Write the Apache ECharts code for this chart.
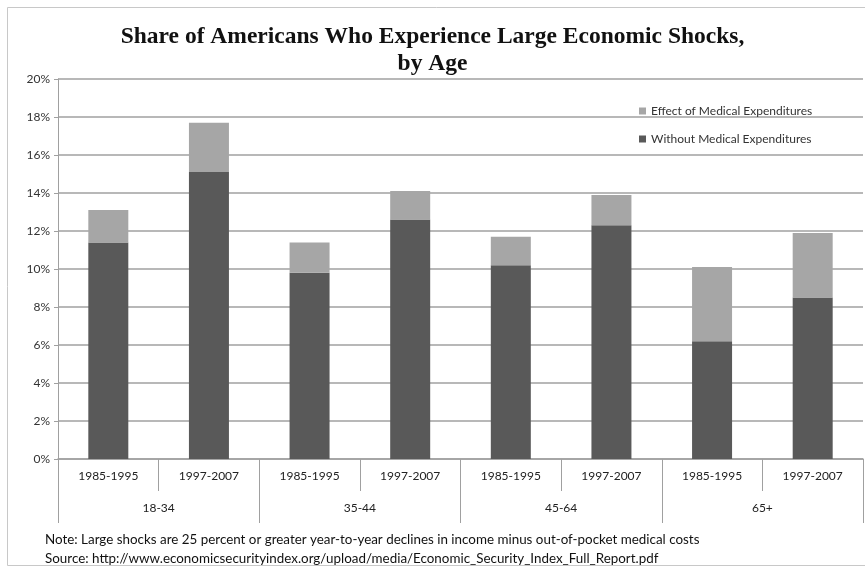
<!DOCTYPE html>
<html>
<head>
<meta charset="utf-8">
<script src="https://cdn.jsdelivr.net/npm/echarts@6/dist/echarts.min.js"></script>
<style>html,body{margin:0;padding:0;background:#fff}#c{width:865px;height:570px}</style>
</head>
<body>
<div id="c"></div>
<script>
const periods = ['1985-1995','1997-2007','1985-1995','1997-2007','1985-1995','1997-2007','1985-1995','1997-2007'];
const ageGroups = ['18-34','35-44','45-64','65+'];
const withoutMedical = [11.4, 15.1, 9.8, 12.6, 10.2, 12.3, 6.2, 8.5];
const effectMedical = [1.7, 2.6, 1.6, 1.5, 1.5, 1.6, 3.9, 3.4];
const yTicks = [0,2,4,6,8,10,12,14,16,18,20];

const FONT = 'Lato';
const chart = echarts.init(document.getElementById('c'), null, {renderer:'canvas'});
chart.setOption({
  animation: false,
  backgroundColor: '#fff',
  title: {
    text: 'Share of Americans Who Experience Large Economic Shocks,\nby Age',
    left: 'center', top: 18,
    textStyle: {fontFamily: 'Liberation Serif', fontWeight: 'bold', fontSize: 23.5, lineHeight: 27, color: '#111'}
  },
  legend: {
    data: ['Effect of Medical Expenditures','Without Medical Expenditures'],
    orient: 'vertical', left: 634, top: 100, itemWidth: 7, itemHeight: 7, itemGap: 16,
    icon: 'rect',
    textStyle: {fontFamily: FONT, fontSize: 12, color: '#333'}
  },
  grid: {left: 58, right: 2, top: 79, bottom: 111, containLabel: false},
  yAxis: {
    type: 'value', min: yTicks[0], max: yTicks[yTicks.length-1], interval: 2,
    axisLine: {show: true, lineStyle: {color: '#a0a0a0', width: 1}},
    axisTick: {show: true, length: 4, lineStyle: {color: '#a0a0a0'}},
    splitLine: {show: true, lineStyle: {color: '#a0a0a0', width: 1.5}},
    axisLabel: {formatter: '{value}%', fontFamily: FONT, fontSize: 12, color: '#333', margin: 8}
  },
  xAxis: [
    {type: 'category', data: periods, position: 'bottom',
     axisLine: {show: true, lineStyle: {color: '#a0a0a0', width: 1.5}},
     axisTick: {show: true, length: 32, lineStyle: {color: '#a0a0a0'}},
     axisLabel: {fontFamily: FONT, fontSize: 12, color: '#222', margin: 11, interval: 0}},
    {type: 'category', data: ageGroups, position: 'bottom',
     axisLine: {show: false},
     axisTick: {show: true, length: 64, lineStyle: {color: '#a0a0a0'}},
     axisLabel: {fontFamily: FONT, fontSize: 12, color: '#222', margin: 43, interval: 0}}
  ],
  series: [
    {name: 'Without Medical Expenditures', type: 'bar', stack: 's', xAxisIndex: 0, data: withoutMedical,
     barWidth: 40, itemStyle: {color: '#595959'}},
    {name: 'Effect of Medical Expenditures', type: 'bar', stack: 's', xAxisIndex: 0, data: effectMedical,
     barWidth: 40, itemStyle: {color: '#a6a6a6'}}
  ],
  graphic: [
    {type: 'rect', shape: {x: 7.5, y: 7.5, width: 880, height: 558}, style: {fill: 'none', stroke: '#c8c8c8', lineWidth: 1}, silent: true},
    {type: 'text', left: 45, top: 533, style: {text: 'Note: Large shocks are 25 percent or greater year-to-year declines in income minus out-of-pocket medical costs', fontFamily: FONT, fontSize: 13.4, fill: '#111'}},
    {type: 'text', left: 45, top: 552, style: {text: 'Source: http://www.economicsecurityindex.org/upload/media/Economic_Security_Index_Full_Report.pdf', fontFamily: FONT, fontSize: 13.4, fill: '#111'}}
  ]
});
</script>
</body>
</html>
